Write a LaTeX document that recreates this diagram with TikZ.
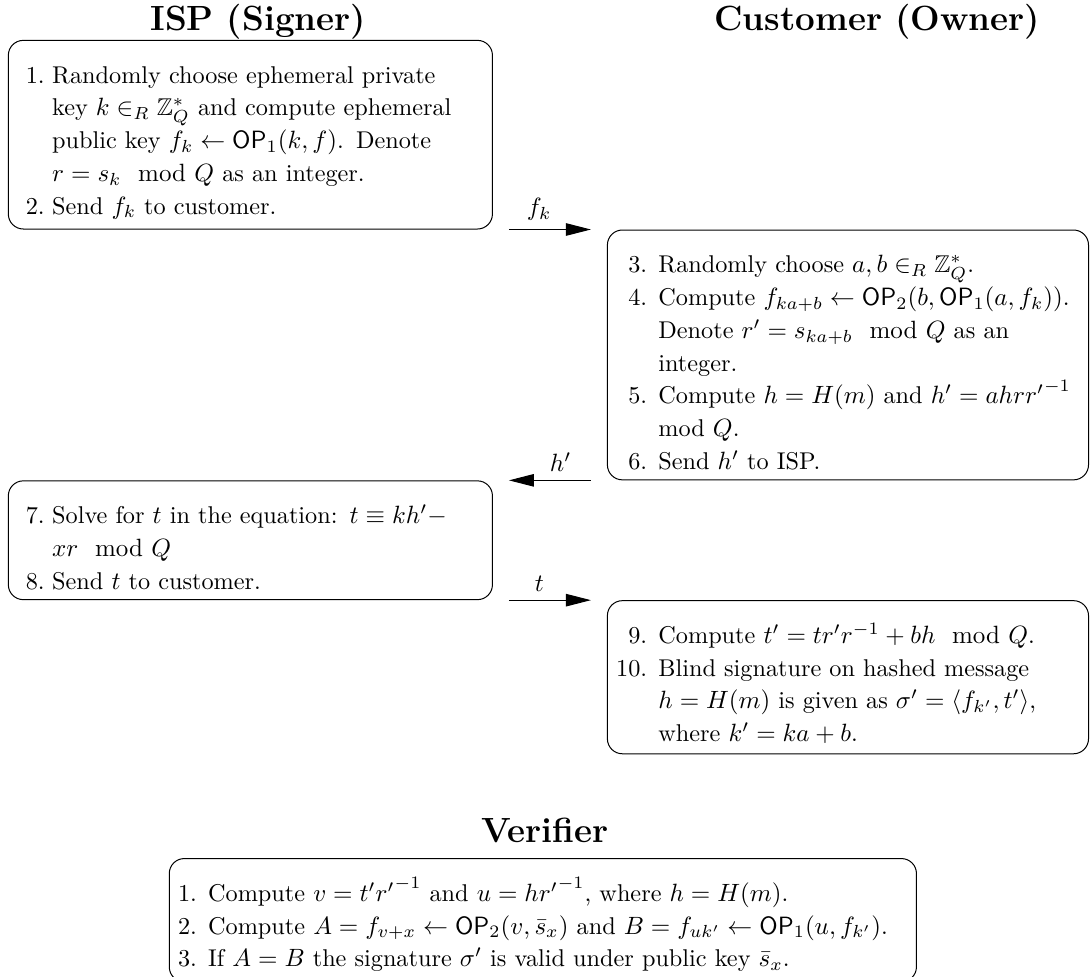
\documentclass[tikz,border=0pt]{standalone}
\usepackage{amsmath,amssymb}
\usepackage{enumitem}
\usetikzlibrary{arrows.meta,positioning,calc}
\setlist[enumerate]{nosep,leftmargin=*,labelsep=4.5pt}

\tikzset{
  party/.style={font=\fontsize{14}{17}\selectfont\bfseries},
  stepbox/.style={draw,rounded corners=6pt,anchor=north west,align=left,
    inner xsep=3.5pt,inner ysep=4pt,text width=#1,font=\fontsize{9.7}{13.1}\selectfont},
  msg/.style={-{Triangle[length=10pt,width=5pt]}},
  msglabel/.style={above,pos=0.37},
}
\newcommand{\OP}{\mathsf{OP}}

\begin{document}
\begin{tikzpicture}
\useasboundingbox (0,0) rectangle (15.32,-13.73);
\coordinate (rcol) at (8.53,0);

\node[party] (isp) at (3.63,-0.3) {ISP (Signer)};
\node[party] (cust) at (12.33,-0.3) {Customer (Owner)};

% ISP, steps 1-2
\node[stepbox=186.6pt] (s1) at (0.11,-0.56) {\begin{enumerate}[labelindent=3.5pt,labelsep=3pt]
\item Randomly choose ephemeral private\newline
key $k \in_R \mathbb{Z}_Q^*$ and compute ephemeral\newline
public key $f_k \leftarrow \OP_1(k,f)$. Denote\newline
$r = s_k \mod Q$ as an integer.
\item Send $f_k$ to customer.
\end{enumerate}};

% customer, steps 3-6
\node[stepbox=185.4pt] (c1) at (s1.south -| rcol) {\begin{enumerate}[start=3,widest=10]
\item Randomly choose $a,b \in_R \mathbb{Z}_Q^*$.
\item \mbox{Compute $f_{ka+b} \leftarrow \OP_2(b,\OP_1(a,f_k))$.}\newline
Denote $r' = s_{ka+b} \mod Q$ as an\newline
integer.
\item \mbox{Compute $h = H(m)$ and $h' = ahr{r'}^{-1}$}\newline
mod $Q$.
\item Send $h'$ to ISP.
\end{enumerate}};

% ISP, steps 7-8
\node[stepbox=186.6pt] (s2) at (c1.south -| s1.west) {\begin{enumerate}[start=7,labelindent=3.5pt,labelsep=3pt]
\item Solve for $t$ in the equation: $t \equiv kh'-$\newline
$xr \mod Q$
\item Send $t$ to customer.
\end{enumerate}};

% customer, steps 9-10
\node[stepbox=185.4pt] (c2) at (s2.south -| rcol) {\begin{enumerate}[start=9,widest=10]
\item Compute $t' = tr'r^{-1} + bh \mod Q$.
\item Blind signature on hashed message\newline
$h = H(m)$ is given as $\sigma' = \langle f_{k'}, t'\rangle$,\newline
where $k' = ka+b$.
\end{enumerate}};

\node[party] (ver) at (7.66,-11.67) {Verifier};
\node[stepbox=291.8pt,anchor=north] (v1) at (7.63,-12.06) {\begin{enumerate}
\item Compute $v = t'{r'}^{-1}$ and $u = h{r'}^{-1}$, where $h = H(m)$.
\item Compute $A = f_{v+x} \leftarrow \OP_2(v,\bar{s}_x)$ and $B = f_{uk'} \leftarrow \OP_1(u,f_{k'})$.
\item If $A = B$ the signature $\sigma'$ is valid under public key $\bar{s}_x$.
\end{enumerate}};

\path
($(s1.east |- c1.north)+(6.4pt,0)$) edge[msg] node[msglabel] {$f_k$} ($(c1.north west)+(-6.4pt,0)$)
($(c1.south west)+(-6.4pt,0)$) edge[msg] node[msglabel] {$h'$} ($(s2.north east)+(6.4pt,0)$)
($(s2.south east)+(6.4pt,0)$) edge[msg] node[msglabel] {$t$} ($(c2.north west)+(-6.4pt,0)$);
\end{tikzpicture}
\end{document}
